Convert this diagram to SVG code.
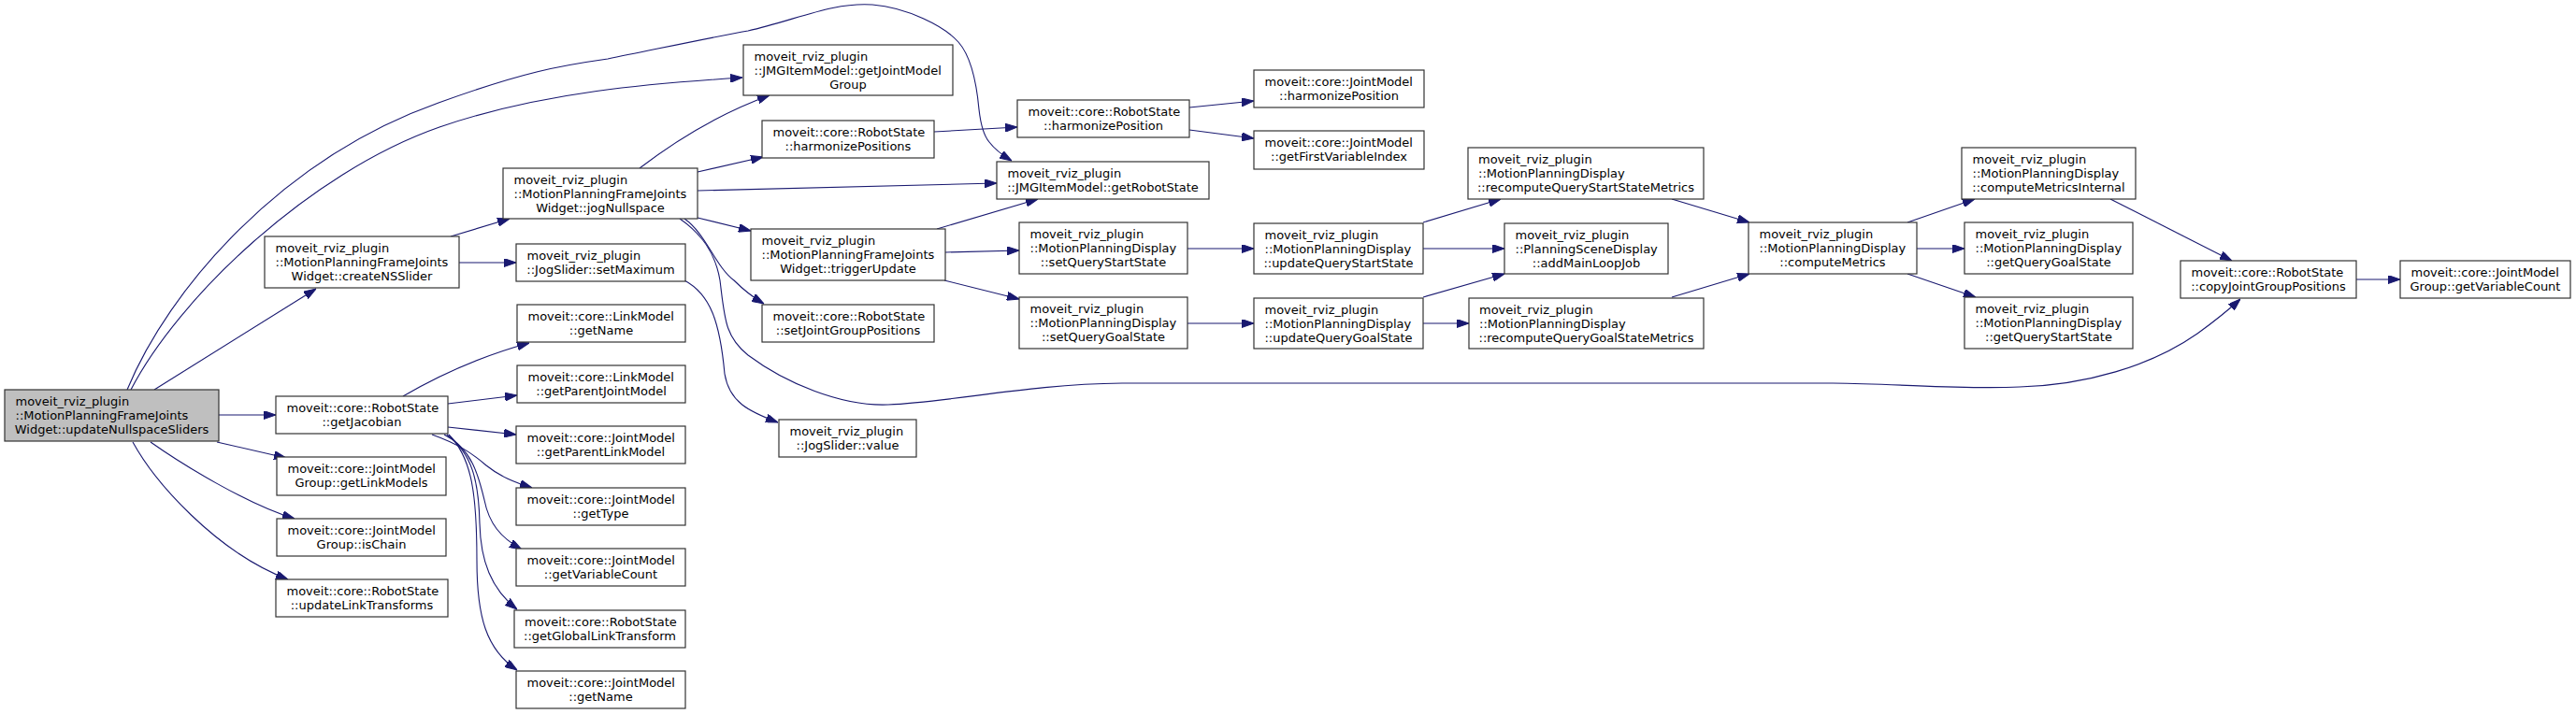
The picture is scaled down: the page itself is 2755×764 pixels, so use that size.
<svg xmlns="http://www.w3.org/2000/svg" width="2755" height="764" viewBox="0 0 2755 764">
<style>
.n rect{fill:#ffffff;stroke:#333333;stroke-width:1.2}
.n text{font-family:"DejaVu Sans","Liberation Sans",sans-serif;font-size:13px;fill:#000000}
.n text.c{text-anchor:middle}
#main rect{fill:#bfbfbf}
#edges path{fill:none;stroke:#191970;stroke-width:1.1;marker-end:url(#a)}
</style>
<defs>
<marker id="a" markerWidth="13" markerHeight="9" refX="13" refY="4.5" orient="auto" markerUnits="userSpaceOnUse">
<path d="M0,0 L13,4.5 L0,9 z" fill="#191970" stroke="#191970" stroke-width="1"/>
</marker>
</defs>
<rect x="0" y="0" width="2755" height="764" fill="#ffffff"/>
<g id="edges">
<path d="M165,417 L338,309"/>
<path d="M140,417 C190,320 330,185 470,136 C580,98 700,89 794,83"/>
<path d="M136,417 C180,310 300,170 469,110 C560,77 600,70 650,63 C700,53 760,40 800,33 C850,22 890,2 933,5 C970,8 1010,28 1025,45 C1040,62 1045,95 1047,117 C1049,135 1052,145 1058,152 C1064,160 1072,166 1082,172"/>
<path d="M234,444 L295,444"/>
<path d="M232,473 L306,490"/>
<path d="M161,473 C195,497 265,540 315,555"/>
<path d="M142,473 C165,515 230,590 308,620"/>
<path d="M482,253 L545,234"/>
<path d="M491,281 L552,281"/>
<path d="M732,300 C760,315 770,345 775,400 C780,430 800,440 832,452"/>
<path d="M684,180 C710,160 760,125 823,102"/>
<path d="M746,184 L816,168"/>
<path d="M746,204 L1066,196"/>
<path d="M746,233 L803,247"/>
<path d="M732,234 C755,250 765,285 785,300 C795,310 805,318 817,325"/>
<path d="M727,234 C750,250 765,270 770,300 C775,340 775,360 800,380 C840,410 900,435 950,433 C1020,430 1100,411 1200,410 L1960,410 C2040,411 2100,417 2160,414 C2230,412 2300,392 2350,357 C2368,344 2382,333 2396,320"/>
<path d="M431,424 C455,410 500,385 566,367"/>
<path d="M479,432 L553,423"/>
<path d="M479,457 L552,465"/>
<path d="M462,465 C490,475 505,485 520,498 C535,510 550,516 569,522"/>
<path d="M475,465 C505,480 512,510 518,535 C523,560 535,575 558,588"/>
<path d="M478,465 C505,485 512,515 513,560 C514,600 525,630 553,652"/>
<path d="M480,465 C505,490 510,530 510,600 C510,660 520,695 553,717"/>
<path d="M999,141 L1088,136"/>
<path d="M1272,115 L1341,108"/>
<path d="M1272,139 L1341,148"/>
<path d="M1002,245 L1110,213"/>
<path d="M1011,270 L1090,268"/>
<path d="M1010,300 L1090,320"/>
<path d="M1270,266 L1341,266"/>
<path d="M1270,346 L1341,346"/>
<path d="M1522,238 L1605,213"/>
<path d="M1522,266 L1609,266"/>
<path d="M1522,318 L1609,293"/>
<path d="M1522,346 L1571,346"/>
<path d="M1788,213 L1871,238"/>
<path d="M1788,318 L1871,293"/>
<path d="M2040,238 L2112,213"/>
<path d="M2050,266 L2101,266"/>
<path d="M2040,293 L2113,318"/>
<path d="M2257,213 L2387,279"/>
<path d="M2520,299 L2567,299"/>
</g>
<g id="main" class="n"><rect x="5" y="417" width="229" height="55"/><text x="16.5" y="434.2">moveit_rviz_plugin</text><text x="16.5" y="448.9">::MotionPlanningFrameJoints</text><text class="c" x="119.5" y="463.5">Widget::updateNullspaceSliders</text></g>
<g id="createNSSlider" class="n"><rect x="283" y="253" width="208" height="55"/><text x="294.5" y="270.2">moveit_rviz_plugin</text><text x="294.5" y="284.9">::MotionPlanningFrameJoints</text><text class="c" x="387" y="299.5">Widget::createNSSlider</text></g>
<g id="jogNullspace" class="n"><rect x="538" y="180" width="208" height="54"/><text x="549.5" y="197.2">moveit_rviz_plugin</text><text x="549.5" y="211.9">::MotionPlanningFrameJoints</text><text class="c" x="642" y="226.5">Widget::jogNullspace</text></g>
<g id="setMaximum" class="n"><rect x="552" y="261" width="181" height="40"/><text x="563.5" y="278.2">moveit_rviz_plugin</text><text class="c" x="642.5" y="292.9">::JogSlider::setMaximum</text></g>
<g id="linkGetName" class="n"><rect x="553" y="326" width="180" height="40"/><text x="564.5" y="343.2">moveit::core::LinkModel</text><text class="c" x="643" y="357.9">::getName</text></g>
<g id="getParentJointModel" class="n"><rect x="553" y="391" width="180" height="40"/><text x="564.5" y="408.2">moveit::core::LinkModel</text><text class="c" x="643" y="422.9">::getParentJointModel</text></g>
<g id="getParentLinkModel" class="n"><rect x="552" y="456" width="181" height="40"/><text x="563.5" y="473.2">moveit::core::JointModel</text><text class="c" x="642.5" y="487.9">::getParentLinkModel</text></g>
<g id="getType" class="n"><rect x="552" y="522" width="181" height="40"/><text x="563.5" y="539.2">moveit::core::JointModel</text><text class="c" x="642.5" y="553.9">::getType</text></g>
<g id="jmGetVariableCount" class="n"><rect x="552" y="587" width="181" height="40"/><text x="563.5" y="604.2">moveit::core::JointModel</text><text class="c" x="642.5" y="618.9">::getVariableCount</text></g>
<g id="getGlobalLinkTransform" class="n"><rect x="550" y="653" width="183" height="40"/><text x="561" y="670.2">moveit::core::RobotState</text><text class="c" x="641.5" y="684.9">::getGlobalLinkTransform</text></g>
<g id="jmGetName" class="n"><rect x="552" y="718" width="181" height="40"/><text x="563.5" y="735.2">moveit::core::JointModel</text><text class="c" x="642.5" y="749.9">::getName</text></g>
<g id="getJacobian" class="n"><rect x="295" y="424" width="184" height="40"/><text x="306.5" y="441.2">moveit::core::RobotState</text><text class="c" x="387" y="455.9">::getJacobian</text></g>
<g id="getLinkModels" class="n"><rect x="296" y="489" width="181" height="41"/><text x="307.5" y="506.2">moveit::core::JointModel</text><text class="c" x="386.5" y="520.9">Group::getLinkModels</text></g>
<g id="isChain" class="n"><rect x="296" y="555" width="181" height="40"/><text x="307.5" y="572.2">moveit::core::JointModel</text><text class="c" x="386.5" y="586.9">Group::isChain</text></g>
<g id="updateLinkTransforms" class="n"><rect x="295" y="620" width="184" height="40"/><text x="306.5" y="637.2">moveit::core::RobotState</text><text class="c" x="387" y="651.9">::updateLinkTransforms</text></g>
<g id="getJointModelGroup" class="n"><rect x="795" y="48" width="224" height="54"/><text x="806.5" y="65.2">moveit_rviz_plugin</text><text x="806.5" y="79.9">::JMGItemModel::getJointModel</text><text class="c" x="907" y="94.5">Group</text></g>
<g id="harmonizePositions" class="n"><rect x="815" y="129" width="184" height="40"/><text x="826.5" y="146.2">moveit::core::RobotState</text><text class="c" x="907" y="160.9">::harmonizePositions</text></g>
<g id="triggerUpdate" class="n"><rect x="803" y="245" width="208" height="55"/><text x="814.5" y="262.2">moveit_rviz_plugin</text><text x="814.5" y="276.9">::MotionPlanningFrameJoints</text><text class="c" x="907" y="291.5">Widget::triggerUpdate</text></g>
<g id="setJointGroupPositions" class="n"><rect x="815" y="326" width="184" height="40"/><text x="826.5" y="343.2">moveit::core::RobotState</text><text class="c" x="907" y="357.9">::setJointGroupPositions</text></g>
<g id="jogValue" class="n"><rect x="833" y="449" width="147" height="40"/><text x="844.5" y="466.2">moveit_rviz_plugin</text><text class="c" x="906.5" y="480.9">::JogSlider::value</text></g>
<g id="harmonizePosition" class="n"><rect x="1088" y="107" width="184" height="40"/><text x="1099.5" y="124.2">moveit::core::RobotState</text><text class="c" x="1180" y="138.9">::harmonizePosition</text></g>
<g id="getRobotState" class="n"><rect x="1066" y="173" width="227" height="40"/><text x="1077.5" y="190.2">moveit_rviz_plugin</text><text class="c" x="1179.5" y="204.9">::JMGItemModel::getRobotState</text></g>
<g id="setQueryStartState" class="n"><rect x="1090" y="238" width="180" height="55"/><text x="1101.5" y="255.2">moveit_rviz_plugin</text><text x="1101.5" y="269.9">::MotionPlanningDisplay</text><text class="c" x="1180" y="284.5">::setQueryStartState</text></g>
<g id="setQueryGoalState" class="n"><rect x="1090" y="318" width="180" height="55"/><text x="1101.5" y="335.2">moveit_rviz_plugin</text><text x="1101.5" y="349.9">::MotionPlanningDisplay</text><text class="c" x="1180" y="364.5">::setQueryGoalState</text></g>
<g id="jmHarmonizePosition" class="n"><rect x="1341" y="75" width="182" height="40"/><text x="1352.5" y="92.2">moveit::core::JointModel</text><text class="c" x="1432" y="106.9">::harmonizePosition</text></g>
<g id="getFirstVariableIndex" class="n"><rect x="1341" y="140" width="182" height="41"/><text x="1352.5" y="157.2">moveit::core::JointModel</text><text class="c" x="1432" y="171.9">::getFirstVariableIndex</text></g>
<g id="updateQueryStartState" class="n"><rect x="1341" y="239" width="181" height="54"/><text x="1352.5" y="256.2">moveit_rviz_plugin</text><text x="1352.5" y="270.9">::MotionPlanningDisplay</text><text class="c" x="1431.5" y="285.5">::updateQueryStartState</text></g>
<g id="updateQueryGoalState" class="n"><rect x="1341" y="319" width="181" height="54"/><text x="1352.5" y="336.2">moveit_rviz_plugin</text><text x="1352.5" y="350.9">::MotionPlanningDisplay</text><text class="c" x="1431.5" y="365.5">::updateQueryGoalState</text></g>
<g id="recomputeQueryStartStateMetrics" class="n"><rect x="1570" y="158" width="252" height="55"/><text x="1581" y="175.2">moveit_rviz_plugin</text><text x="1581" y="189.9">::MotionPlanningDisplay</text><text class="c" x="1696" y="204.5">::recomputeQueryStartStateMetrics</text></g>
<g id="addMainLoopJob" class="n"><rect x="1609" y="239" width="175" height="54"/><text x="1620.5" y="256.2">moveit_rviz_plugin</text><text x="1620.5" y="270.9">::PlanningSceneDisplay</text><text class="c" x="1696.5" y="285.5">::addMainLoopJob</text></g>
<g id="recomputeQueryGoalStateMetrics" class="n"><rect x="1571" y="319" width="251" height="54"/><text x="1582" y="336.2">moveit_rviz_plugin</text><text x="1582" y="350.9">::MotionPlanningDisplay</text><text class="c" x="1696.5" y="365.5">::recomputeQueryGoalStateMetrics</text></g>
<g id="computeMetrics" class="n"><rect x="1870" y="238" width="180" height="55"/><text x="1881.5" y="255.2">moveit_rviz_plugin</text><text x="1881.5" y="269.9">::MotionPlanningDisplay</text><text class="c" x="1960" y="284.5">::computeMetrics</text></g>
<g id="computeMetricsInternal" class="n"><rect x="2098" y="158" width="186" height="55"/><text x="2109.5" y="175.2">moveit_rviz_plugin</text><text x="2109.5" y="189.9">::MotionPlanningDisplay</text><text class="c" x="2191" y="204.5">::computeMetricsInternal</text></g>
<g id="getQueryGoalState" class="n"><rect x="2101" y="238" width="180" height="55"/><text x="2112.5" y="255.2">moveit_rviz_plugin</text><text x="2112.5" y="269.9">::MotionPlanningDisplay</text><text class="c" x="2191" y="284.5">::getQueryGoalState</text></g>
<g id="getQueryStartState" class="n"><rect x="2101" y="318" width="180" height="55"/><text x="2112.5" y="335.2">moveit_rviz_plugin</text><text x="2112.5" y="349.9">::MotionPlanningDisplay</text><text class="c" x="2191" y="364.5">::getQueryStartState</text></g>
<g id="copyJointGroupPositions" class="n"><rect x="2332" y="279" width="188" height="40"/><text x="2343.5" y="296.2">moveit::core::RobotState</text><text class="c" x="2426" y="310.9">::copyJointGroupPositions</text></g>
<g id="jmgGetVariableCount" class="n"><rect x="2567" y="279" width="182" height="40"/><text x="2578.5" y="296.2">moveit::core::JointModel</text><text class="c" x="2658" y="310.9">Group::getVariableCount</text></g>
</svg>
